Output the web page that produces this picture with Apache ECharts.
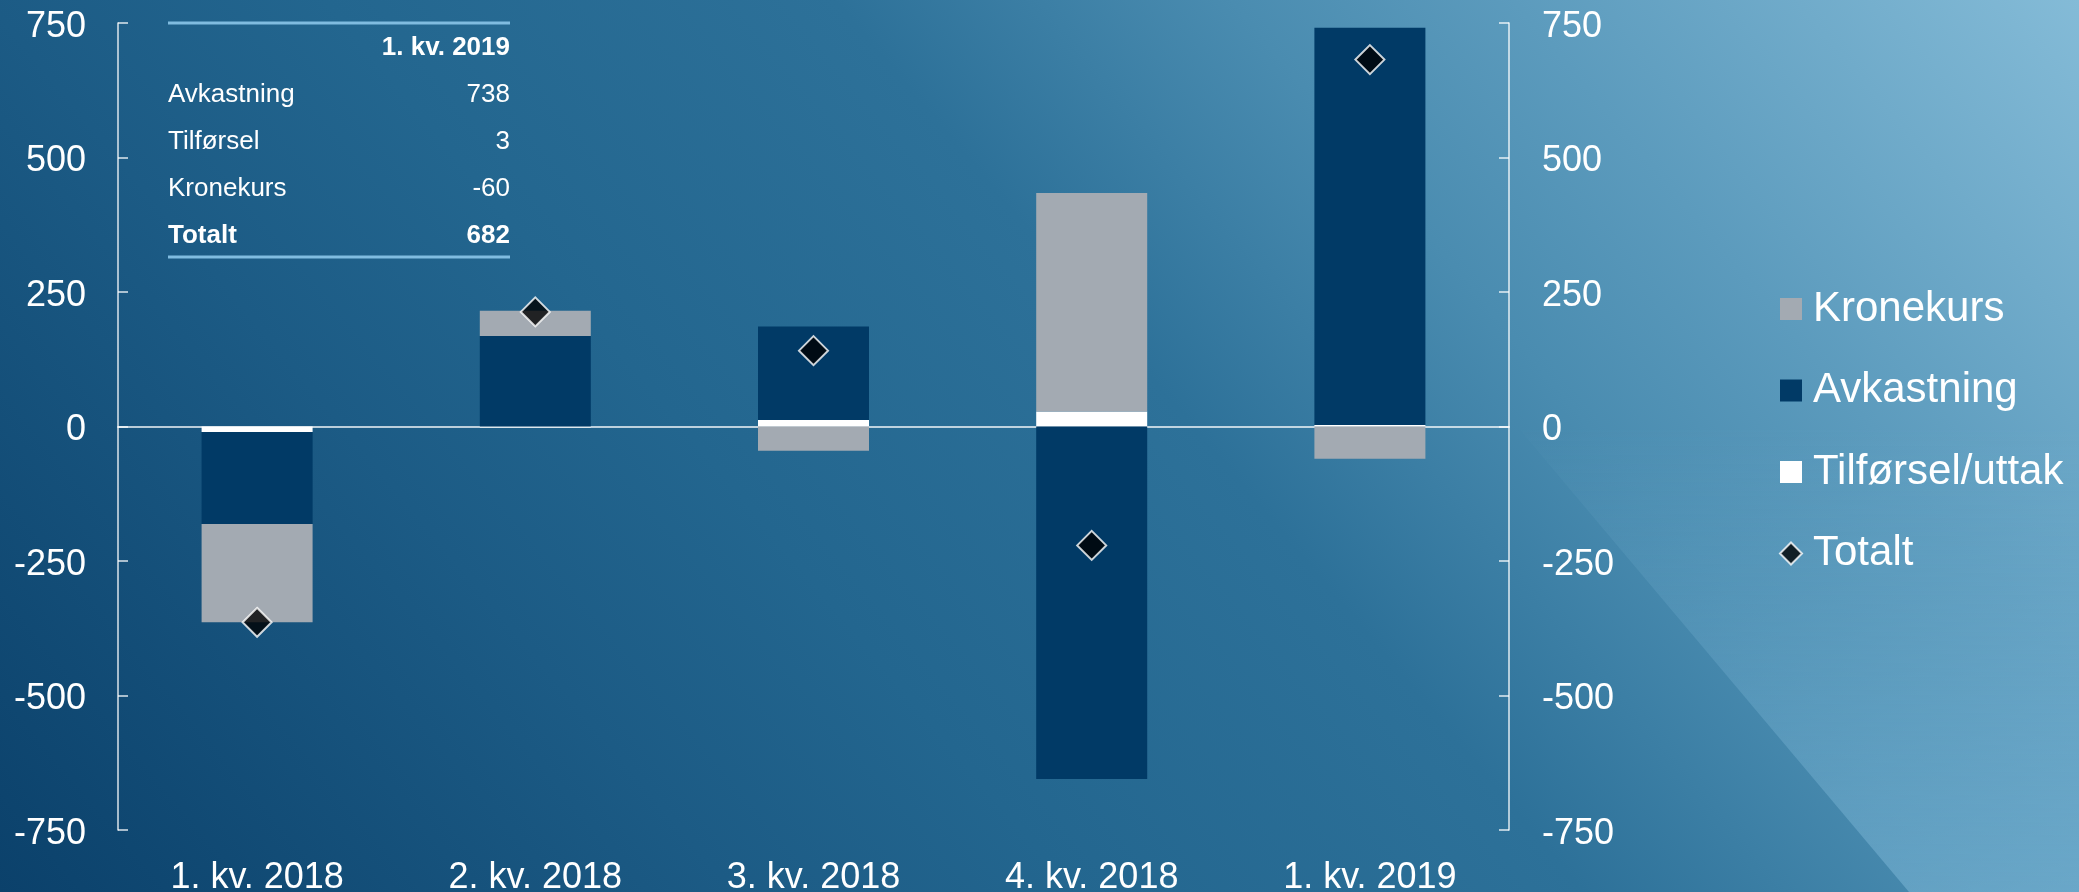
<!DOCTYPE html>
<html>
<head>
<meta charset="utf-8">
<script src="https://cdn.jsdelivr.net/npm/echarts@6/dist/echarts.min.js"></script>
<style>
  html, body { margin: 0; padding: 0; }
  #chart {
    width: 2079px;
    height: 892px;
    background: linear-gradient(50deg, #0b416b 0%, #1c5b85 26%, #23668f 38%, #2d7199 56%, #4a8cb0 70%, #5c9bbd 80%, #84bbd7 100%);
  }
</style>
</head>
<body>
<div id="chart"></div>
<script>
  'use strict';

  // kvartaler
  var categories = ['1. kv. 2018', '2. kv. 2018', '3. kv. 2018', '4. kv. 2018', '1. kv. 2019'];
  // milliarder kroner
  var tilforsel = [-10, -2, 12, 28, 3];
  var avkastning = [-171, 168, 174, -655, 738];
  var kronekurs = [-183, 47, -45, 406, -60];
  var totalt = [-364, 213, 141, -221, 682];

  var Y_MIN = -750;
  var Y_MAX = 750;
  var Y_STEP = 250;

  var FONT = "'Liberation Sans', Arial, sans-serif";
  var WHITE = '#ffffff';
  var AXIS_COLOR = 'rgba(255,255,255,0.85)';
  var COL_KRONE = '#a3aab2';
  var COL_AVK = '#013a66';
  var COL_TILF = '#ffffff';

  var chart = echarts.init(document.getElementById('chart'), null, { renderer: 'canvas' });

  function barSeries(name, data, color) {
    return {
      type: 'bar',
      name: name,
      data: data,
      stack: 'sum',
      barWidth: 111,
      itemStyle: { color: color },
      silent: true
    };
  }

  function yAxis(position, margin) {
    return {
      type: 'value',
      position: position,
      min: Y_MIN,
      max: Y_MAX,
      interval: Y_STEP,
      axisLine: { show: true, lineStyle: { color: AXIS_COLOR, width: 1.5 } },
      axisTick: { show: true, inside: true, length: 10, lineStyle: { color: AXIS_COLOR, width: 1.5 } },
      axisLabel: {
        margin: margin,
        formatter: function (v) { return '{v|' + v + '}'; },
        rich: { v: { color: WHITE, fontSize: 36, fontFamily: FONT, padding: [8, 0, 0, 0] } }
      },
      splitLine: { show: false }
    };
  }

  function txt(text, x, y, align, bold) {
    return {
      type: 'text',
      z: 10,
      style: {
        text: text,
        x: x,
        y: y,
        fill: WHITE,
        font: (bold ? 'bold ' : '') + '26px ' + FONT,
        align: align,
        verticalAlign: 'middle',
        textAlign: align,
        textVerticalAlign: 'middle'
      }
    };
  }

  function hline(y) {
    return {
      type: 'line',
      z: 10,
      shape: { x1: 168, y1: y, x2: 510, y2: y },
      style: { stroke: '#80bce0', lineWidth: 3 }
    };
  }

  // tabellen oppe til venstre: siste kvartal
  var last = categories.length - 1;
  var tableRows = [
    ['Avkastning', avkastning[last]],
    ['Tilførsel', tilforsel[last]],
    ['Kronekurs', kronekurs[last]]
  ];
  var tableEls = [hline(23), txt(categories[last], 510, 48, 'right', true)];
  tableRows.forEach(function (r, i) {
    var y = 95 + i * 47;
    tableEls.push(txt(r[0], 168, y, 'left', false));
    tableEls.push(txt(String(r[1]), 510, y, 'right', false));
  });
  tableEls.push(txt('Totalt', 168, 236, 'left', true));
  tableEls.push(txt(String(totalt[last]), 510, 236, 'right', true));
  tableEls.push(hline(257));

  // lys trekant nede til høyre i bakgrunnen
  var overlay = {
    type: 'polygon',
    z: -10,
    silent: true,
    shape: { points: [[1520, 430], [1909, 892], [2079, 892], [2079, 430]] },
    style: {
      fill: {
        type: 'linear', x: 0, y: 0, x2: 0, y2: 1,
        colorStops: [
          { offset: 0, color: 'rgba(142,198,228,0.02)' },
          { offset: 1, color: 'rgba(142,198,228,0.42)' }
        ]
      }
    }
  };

  var totalStyle = { color: '#000000', borderColor: WHITE, borderWidth: 2 };

  chart.setOption({
    backgroundColor: 'transparent',
    animation: false,
    textStyle: { fontFamily: FONT },
    grid: { left: 118, right: 570, top: 23, bottom: 62, containLabel: false, outerBoundsMode: 'none' },
    legend: {
      orient: 'vertical',
      left: 1779,
      top: 287,
      padding: 0,
      icon: 'rect',
      itemWidth: 22,
      itemHeight: 22,
      itemGap: 37.5,
      data: [
        'Kronekurs',
        'Avkastning',
        'Tilførsel/uttak',
        { name: 'Totalt', icon: 'diamond', itemStyle: totalStyle }
      ],
      textStyle: { color: WHITE, fontSize: 42, lineHeight: 44, fontFamily: FONT, padding: [0, 0, 0, 6] }
    },
    xAxis: [{
      type: 'category',
      data: categories,
      position: 'bottom',
      axisLine: { show: false, onZero: false },
      axisTick: { show: false },
      axisLabel: { color: WHITE, fontSize: 36, fontFamily: FONT, margin: 30, lineHeight: 36 },
      splitLine: { show: false }
    }, {
      // nullinjen
      type: 'category',
      data: categories,
      position: 'top',
      axisLine: { show: true, onZero: true, onZeroAxisIndex: 0, lineStyle: { color: 'rgba(255,255,255,0.7)', width: 2 } },
      axisTick: { show: false },
      axisLabel: { show: false },
      splitLine: { show: false }
    }],
    yAxis: [yAxis('left', 32), yAxis('right', 33)],
    graphic: { elements: [overlay].concat(tableEls) },
    series: [
      barSeries('Tilførsel/uttak', tilforsel, COL_TILF),
      barSeries('Avkastning', avkastning, COL_AVK),
      barSeries('Kronekurs', kronekurs, COL_KRONE),
      {
        type: 'scatter',
        name: 'Totalt',
        data: totalt,
        symbol: 'diamond',
        symbolSize: 29,
        z: 5,
        itemStyle: totalStyle,
        silent: true
      }
    ]
  });
</script>
</body>
</html>
